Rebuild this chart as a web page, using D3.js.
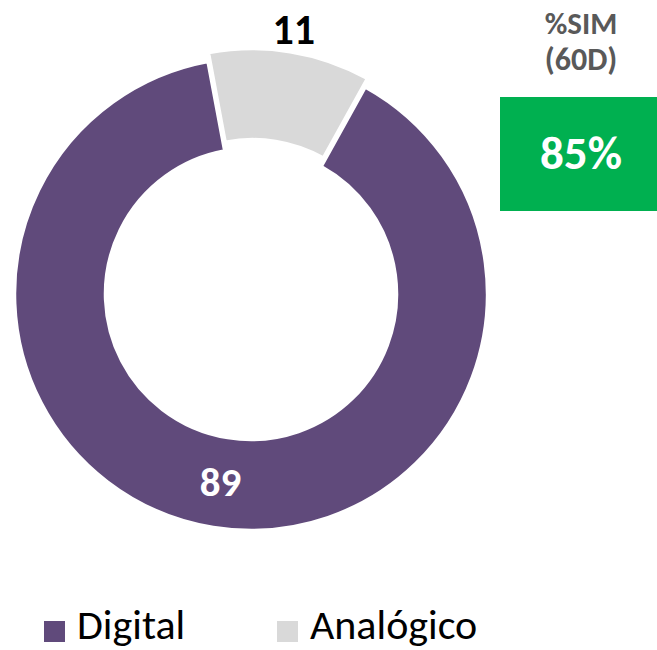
<!DOCTYPE html>
<html>
<head>
<meta charset="utf-8">
<script src="https://cdn.jsdelivr.net/npm/d3@7"></script>
<style>
  html, body { margin: 0; padding: 0; background: #fff; }
  svg { display: block; font-family: Calibri, Carlito, "Open Sans", sans-serif; }
</style>
</head>
<body>
<svg id="chart" width="657" height="650"></svg>
<script>
// ---- data ----
const categories = ["Digital", "Analógico"];
const values = [89, 11];
const colors = ["#604A7B", "#D9D9D9"];
const labelColors = ["#FFFFFF", "#000000"];
const kpiTitle = ["%SIM", "(60D)"];
const kpiValue = "85%";

const svg = d3.select("#chart");
const cx = 251, cy = 294, outerR = 236, innerR = 146;
const startDeg = 29;
const explode = [0, 9];

const pie = d3.pie().sort(null).value(d => d)
  .startAngle(startDeg * Math.PI / 180)
  .endAngle(startDeg * Math.PI / 180 + 2 * Math.PI);
const arcs = pie(values);
const arc = d3.arc().innerRadius(innerR).outerRadius(outerR);

const g = svg.append("g").attr("transform", `translate(${cx},${cy})`);

arcs.forEach((a, i) => {
  const mid = (a.startAngle + a.endAngle) / 2;
  const dx = Math.sin(mid) * explode[i], dy = -Math.cos(mid) * explode[i];
  g.append("path")
    .attr("d", arc(a))
    .attr("transform", `translate(${dx},${dy})`)
    .attr("fill", colors[i])
    .attr("stroke", "#fff")
    .attr("stroke-width", 2.5)
    .attr("stroke-linejoin", "round");
});

// data labels
// Digital: inside at centroid
{
  const a = arcs[0];
  const c = arc.centroid(a);
  g.append("text")
    .attr("x", c[0]).attr("y", c[1] + 13)
    .attr("text-anchor", "middle")
    .attr("font-size", 41).attr("font-weight", "bold")
    .attr("fill", labelColors[0])
    .text(values[0]);
}
// Analógico: outside end
{
  const a = arcs[1];
  const mid = (a.startAngle + a.endAngle) / 2;
  const r = 267;
  g.append("text")
    .attr("x", Math.sin(mid) * r).attr("y", -Math.cos(mid) * r + 14)
    .attr("text-anchor", "middle")
    .attr("font-size", 42).attr("font-weight", "bold")
    .attr("fill", labelColors[1])
    .text(values[1]);
}

// KPI block
svg.append("text").attr("x", 581).attr("y", 34)
  .attr("text-anchor", "middle").attr("font-size", 31).attr("font-weight", "bold")
  .attr("fill", "#595959").text(kpiTitle[0]);
svg.append("text").attr("x", 581).attr("y", 70)
  .attr("text-anchor", "middle").attr("font-size", 32).attr("font-weight", "bold")
  .attr("fill", "#595959").text(kpiTitle[1]);
svg.append("rect").attr("x", 500).attr("y", 97).attr("width", 157).attr("height", 114)
  .attr("fill", "#00B050");
svg.append("text").attr("x", 581).attr("y", 169)
  .attr("text-anchor", "middle")
  .attr("font-size", 47).attr("font-weight", "bold")
  .attr("fill", "#FFFFFF").text(kpiValue);

// legend
const legendX = [44, 277];
categories.forEach((c, i) => {
  svg.append("rect").attr("x", legendX[i]).attr("y", 621).attr("width", 21).attr("height", 21)
    .attr("fill", colors[i]);
  svg.append("text").attr("x", legendX[i] + 33).attr("y", 639)
    .attr("font-size", 42).attr("fill", "#000")
    .text(c);
});
</script>
</body>
</html>
